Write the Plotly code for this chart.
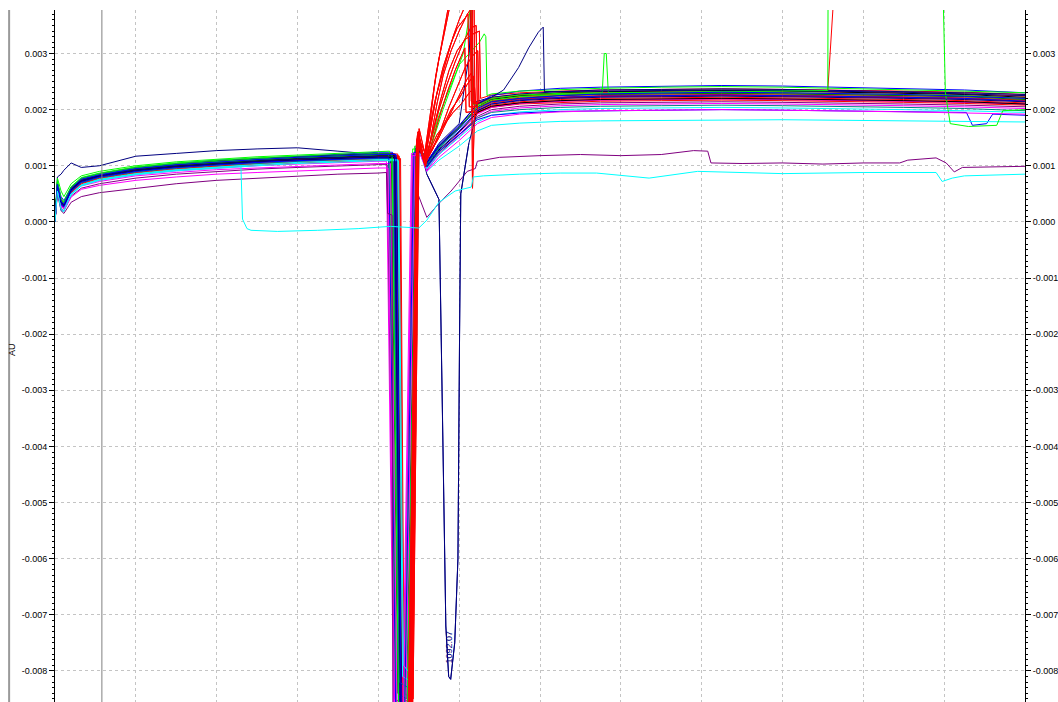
import plotly.graph_objects as go

# ---------------- data (signal in mAU, time in minutes) ----------------
X_PRE = [0.0, 0.06, 0.15, 0.22, 0.4, 0.65, 1.1, 2.0, 3.0, 4.0, 5.0, 6.0, 7.0, 8.0]
X_POST = [9.05, 9.2, 9.5, 10.0, 10.45, 10.8, 11.5, 12.5, 13.5, 15.0, 16.5, 18.0, 19.5, 21.0, 22.5, 24.0]

# red injections
RED_PRE = [
    [0.0, 0.66, 0.36, 0.30, 0.57, 0.72, 0.81, 0.92, 0.99, 1.04, 1.08, 1.12, 1.15, 1.17],
    [0.0, 0.64, 0.33, 0.28, 0.55, 0.70, 0.79, 0.90, 0.97, 1.02, 1.06, 1.10, 1.13, 1.15],
    [0.0, 0.68, 0.38, 0.33, 0.60, 0.75, 0.84, 0.95, 1.02, 1.07, 1.11, 1.14, 1.17, 1.19],
    [0.0, 0.62, 0.30, 0.26, 0.53, 0.69, 0.78, 0.88, 0.95, 1.00, 1.04, 1.08, 1.11, 1.13],
    [0.0, 0.70, 0.40, 0.35, 0.62, 0.77, 0.86, 0.97, 1.04, 1.09, 1.13, 1.16, 1.19, 1.21],
    [0.0, 0.60, 0.28, 0.24, 0.50, 0.66, 0.75, 0.85, 0.92, 0.97, 1.01, 1.05, 1.08, 1.10],
    [0.0, 0.65, 0.35, 0.30, 0.57, 0.73, 0.82, 0.93, 1.00, 1.05, 1.09, 1.13, 1.16, 1.18],
    [0.0, 0.63, 0.32, 0.27, 0.54, 0.71, 0.80, 0.91, 0.98, 1.03, 1.07, 1.11, 1.14, 1.16],
    [0.0, 0.67, 0.37, 0.31, 0.58, 0.74, 0.83, 0.94, 1.01, 1.06, 1.10, 1.13, 1.16, 1.18],
    [0.0, 0.61, 0.29, 0.25, 0.52, 0.68, 0.77, 0.87, 0.94, 0.99, 1.03, 1.07, 1.10, 1.12],
    [0.0, 0.69, 0.39, 0.34, 0.61, 0.76, 0.85, 0.96, 1.03, 1.08, 1.12, 1.15, 1.18, 1.22],
    [0.0, 0.64, 0.34, 0.29, 0.56, 0.72, 0.81, 0.92, 0.99, 1.04, 1.08, 1.12, 1.15, 1.17],
]
RED_DIP = [  # drop start, bottom start, bottom end, recovery x, bottom values, recovery value
    (8.52, 8.62, 8.84, 8.98, -8.5, -8.6, 1.30),
    (8.46, 8.58, 8.80, 8.96, -8.7, -8.8, 1.35),
    (8.40, 8.54, 8.76, 8.94, -8.6, -8.7, 1.28),
    (8.55, 8.64, 8.86, 9.00, -8.4, -8.5, 1.40),
    (8.48, 8.60, 8.82, 8.97, -8.8, -8.9, 1.32),
    (8.36, 8.50, 8.74, 8.93, -8.5, -8.6, 1.25),
    (8.50, 8.62, 8.83, 8.99, -8.7, -8.8, 1.38),
    (8.44, 8.56, 8.78, 8.95, -8.6, -8.7, 1.30),
    (8.42, 8.55, 8.79, 8.96, -8.6, -8.7, 1.33),
    (8.53, 8.63, 8.85, 8.99, -8.5, -8.6, 1.30),
    (8.38, 8.52, 8.75, 8.94, -8.7, -8.8, 1.36),
    (8.47, 8.59, 8.81, 8.97, -8.6, -8.7, 1.31),
]
RED_POST = [
    [1.28, 1.05, 1.30, 1.65, 2.10, 2.20, 2.25, 2.28, 2.30, 2.31, 2.32, 2.31, 2.30, 2.28, 2.26, 2.22],
    [1.30, 1.08, 1.32, 1.66, 2.05, 2.16, 2.22, 2.25, 2.27, 2.28, 2.29, 2.28, 2.27, 2.25, 2.23, 2.20],
    [1.27, 1.02, 1.28, 1.60, 1.98, 2.08, 2.14, 2.18, 2.20, 2.21, 2.22, 2.21, 2.20, 2.18, 2.16, 2.12],
    [1.32, 1.10, 1.35, 1.70, 2.20, 2.26, 2.30, 2.33, 2.35, 2.36, 2.37, 2.36, 2.35, 2.33, 2.31, 2.27],
    [1.29, 1.04, 1.29, 1.62, 1.95, 2.05, 2.11, 2.15, 2.17, 2.18, 2.19, 2.18, 2.17, 2.15, 2.13, 2.10],
    [1.25, 1.00, 1.26, 1.58, 1.96, 2.06, 2.12, 2.16, 2.18, 2.19, 2.20, 2.19, 2.18, 2.16, 2.14, 2.10],
    [1.31, 1.07, 1.33, 1.68, 2.10, 2.19, 2.24, 2.27, 2.29, 2.30, 2.31, 2.30, 2.29, 2.27, 2.25, 2.21],
    [1.29, 1.03, 1.30, 1.63, 2.05, 2.14, 2.19, 2.22, 2.24, 2.25, 2.26, 2.25, 2.24, 2.22, 2.20, 2.16],
    [1.30, 1.06, 1.31, 1.64, 2.02, 2.12, 2.18, 2.21, 2.23, 2.24, 2.25, 2.24, 2.23, 2.21, 2.19, 2.15],
    [1.27, 1.01, 1.27, 1.59, 1.94, 2.04, 2.10, 2.13, 2.15, 2.16, 2.17, 2.16, 2.15, 2.13, 2.11, 2.08],
    [1.32, 1.09, 1.34, 1.69, 2.12, 2.22, 2.27, 2.30, 2.32, 2.33, 2.34, 2.33, 2.32, 2.30, 2.28, 2.24],
    [1.29, 1.04, 1.30, 1.62, 2.06, 2.15, 2.20, 2.23, 2.25, 2.26, 2.27, 2.26, 2.25, 2.23, 2.21, 2.17],
]
RED_EVENTS = [
    [[(8.99, 1.62), (9.12, 1.08), (9.25, 1.75), (9.38, 2.40), (9.50, 2.90), (9.62, 3.35), (9.75, 3.80),
      (9.90, 4.30), (10.32, 5.00), (10.34, 2.12)],
     [(19.12, 2.34), (19.53, 7.0), (24.0, 7.0)]],
    [[(8.98, 1.55), (9.14, 1.05), (9.30, 1.70), (9.45, 2.30), (9.60, 2.75), (9.78, 3.15), (9.95, 3.45),
      (10.10, 3.60), (10.22, 3.70), (10.25, 2.05)]],
    [[(8.96, 1.48), (9.16, 1.00), (9.30, 1.35), (9.50, 1.85), (9.70, 2.30), (9.90, 2.70), (10.05, 2.95),
      (10.14, 3.10), (10.17, 1.95)]],
    [[(9.01, 1.66), (9.18, 1.12), (9.35, 1.60), (9.55, 2.20), (9.75, 2.70), (9.95, 3.05), (10.15, 3.25),
      (10.35, 3.35), (10.50, 3.40), (10.53, 2.20)]],
    [[(8.99, 1.50), (9.15, 1.02), (9.30, 1.25), (9.50, 1.50), (9.70, 1.80), (9.90, 2.10), (10.05, 2.35),
      (10.20, 2.55), (10.30, 2.65), (10.33, 1.90)]],
    [[(8.95, 1.45), (9.17, 0.98), (9.30, 1.50), (9.45, 2.10), (9.60, 2.60), (9.80, 3.05), (10.00, 3.40),
      (10.20, 3.70), (10.30, 3.80), (10.33, 0.60), (10.38, 1.95)]],
    [[(9.00, 1.58), (9.13, 1.06), (9.28, 1.30), (9.45, 1.55), (9.65, 1.75), (9.85, 1.95), (10.05, 2.10),
      (10.25, 2.30), (10.38, 2.40), (10.41, 2.10)]],
    [[(8.97, 1.52), (9.15, 1.04), (9.30, 1.90), (9.42, 2.60), (9.55, 3.10), (9.68, 3.60), (9.80, 4.10),
      (10.36, 4.60), (10.39, 2.05)]],
    [[(8.98, 1.60), (9.14, 1.10), (9.30, 1.45), (9.50, 2.00), (9.70, 2.45), (9.90, 2.85), (10.10, 3.20),
      (10.28, 3.45), (10.42, 3.50), (10.45, 2.00)]],
    [[(9.00, 1.50), (9.20, 1.15), (9.40, 1.40), (9.60, 1.70), (9.80, 2.00), (10.00, 2.20), (10.20, 2.45),
      (10.35, 2.60), (10.38, 1.85)]],
    [[(8.97, 1.56), (9.12, 1.10), (9.25, 1.60), (9.40, 2.15), (9.55, 2.55), (9.70, 2.95), (9.85, 3.30),
      (10.00, 3.60), (10.15, 3.85), (10.27, 4.00), (10.30, 2.15)]],
    [[(8.99, 1.50), (9.16, 1.05), (9.35, 1.30), (9.55, 1.65), (9.75, 2.05), (9.95, 2.40), (10.15, 2.75),
      (10.32, 2.95), (10.46, 3.05), (10.49, 2.10)]],
]

# other injections
TRACE_COLORS = ["#000080", "#0000FF", "#00FF00", "#000000", "#00FF00", "#0000FF", "#008000",
                "#FF00FF", "#000000", "#800080", "#000080", "#FF00FF", "#008080", "#00FFFF",
                "#0000FF", "#00FFFF", "#00FF00", "#000080", "#FF00FF", "#0000FF"]
TRACE_PRE = [
    [0.0, 0.80, 0.85, 0.92, 1.05, 0.97, 1.00, 1.17, 1.22, 1.27, 1.30, 1.32, 1.26, 1.20],
    [0.0, 0.70, 0.45, 0.38, 0.62, 0.78, 0.86, 0.97, 1.04, 1.10, 1.13, 1.17, 1.20, 1.24],
    [0.05, 0.78, 0.55, 0.45, 0.68, 0.82, 0.90, 1.00, 1.07, 1.12, 1.16, 1.19, 1.22, 1.26],
    [0.0, 0.65, 0.35, 0.30, 0.58, 0.74, 0.82, 0.93, 1.00, 1.05, 1.09, 1.13, 1.16, 1.18],
    [0.0, 0.72, 0.42, 0.36, 0.63, 0.79, 0.87, 0.98, 1.05, 1.10, 1.14, 1.17, 1.20, 1.22],
    [0.0, 0.60, 0.30, 0.26, 0.54, 0.70, 0.80, 0.90, 0.97, 1.02, 1.06, 1.10, 1.13, 1.15],
    [0.0, 0.68, 0.38, 0.33, 0.60, 0.75, 0.83, 0.94, 1.01, 1.06, 1.10, 1.14, 1.17, 1.19],
    [0.0, 0.58, 0.28, 0.24, 0.50, 0.66, 0.74, 0.84, 0.91, 0.96, 1.00, 1.03, 1.06, 1.08],
    [0.0, 0.62, 0.32, 0.28, 0.56, 0.72, 0.80, 0.91, 0.98, 1.03, 1.07, 1.10, 1.13, 1.15],
    [0.0, 0.55, 0.25, 0.20, 0.46, 0.60, 0.68, 0.78, 0.85, 0.90, 0.94, 0.97, 1.00, 1.02],
    [0.0, 0.66, 0.36, 0.30, 0.58, 0.74, 0.83, 0.95, 1.02, 1.08, 1.12, 1.16, 1.19, 1.21],
    [0.0, 0.60, 0.28, 0.24, 0.50, 0.64, 0.72, 0.82, 0.88, 0.93, 0.96, 0.99, 1.02, 1.04],
    [0.0, 0.64, 0.33, 0.28, 0.55, 0.70, 0.79, 0.89, 0.96, 1.01, 1.04, 1.08, 1.11, 1.13],
    [0.0, 0.60, 0.22, 0.20, 0.50, 0.66, 0.76, 0.86, 0.93, 0.98, 1.02, 1.06, 1.09, 1.11],
    [0.0, 0.63, 0.31, 0.27, 0.55, 0.71, 0.80, 0.90, 0.97, 1.02, 1.06, 1.09, 1.12, 1.14],
    [0.0, 0.58, 0.20, 0.18, 0.48, 0.64, 0.74, 0.84, 0.91, 0.96, 1.00, 1.04, 1.07, 1.09],
    [0.0, 0.70, 0.40, 0.34, 0.62, 0.77, 0.85, 0.96, 1.03, 1.08, 1.12, 1.15, 1.18, 1.20],
    [0.0, 0.64, 0.34, 0.29, 0.57, 0.73, 0.82, 0.92, 0.99, 1.04, 1.08, 1.12, 1.15, 1.17],
    [0.0, 0.55, 0.22, 0.20, 0.44, 0.58, 0.65, 0.74, 0.80, 0.85, 0.88, 0.91, 0.94, 0.96],
    [0.0, 0.67, 0.37, 0.32, 0.60, 0.76, 0.84, 0.95, 1.02, 1.07, 1.11, 1.15, 1.18, 1.20],
]
TRACE_DIP = [
    (8.30, 8.45, 8.72, 8.97, -8.7, -8.8, 1.30), (8.35, 8.50, 8.74, 8.92, -8.8, -8.9, 1.32),
    (8.28, 8.44, 8.66, 8.90, -8.6, -8.7, 1.35), (8.40, 8.54, 8.78, 8.95, -8.7, -8.6, 1.28),
    (8.25, 8.42, 8.64, 8.85, -8.5, -8.6, 1.30), (8.38, 8.52, 8.80, 9.00, -8.8, -8.9, 1.25),
    (8.32, 8.48, 8.70, 8.93, -8.4, -8.5, 1.30), (8.20, 8.38, 8.60, 8.82, -8.7, -8.8, 1.22),
    (8.45, 8.58, 8.82, 8.98, -8.6, -8.7, 1.25), (8.22, 8.40, 8.62, 8.86, -8.5, -8.6, 1.20),
    (8.42, 8.56, 8.78, 8.97, -8.8, -8.9, 1.30), (8.30, 8.46, 8.68, 8.90, -8.6, -8.7, 1.20),
    (8.36, 8.52, 8.74, 8.94, -8.2, -8.3, 1.24), (8.48, 8.60, 8.84, 9.00, -8.1, -8.2, 1.20),
    (8.26, 8.43, 8.65, 8.88, -8.7, -8.8, 1.24), (8.50, 8.62, 8.85, 9.00, -7.9, -8.1, 1.18),
    (8.34, 8.50, 8.72, 8.95, -8.6, -8.7, 1.30), (8.40, 8.55, 8.80, 8.99, -8.7, -8.8, 1.26),
    (8.24, 8.40, 8.62, 8.84, -8.6, -8.7, 1.18), (8.44, 8.57, 8.81, 8.96, -8.7, -8.8, 1.28),
]
TRACE_POST = [
    [1.30, 1.05, 1.40, 1.75, 2.15, 2.22, 2.28, 2.32, 2.35, 2.36, 2.37, 2.36, 2.34, 2.33, 2.30, 2.27],
    [1.30, 1.08, 1.38, 1.72, 2.10, 2.25, 2.33, 2.38, 2.40, 2.42, 2.43, 2.42, 2.40, 2.38, 2.35, 2.30],
    [1.33, 1.10, 1.42, 1.80, 2.20, 2.28, 2.33, 2.36, 2.38, 2.40, 2.41, 2.40, 2.38, 2.36, 2.33, 2.30],
    [1.27, 1.02, 1.33, 1.68, 2.05, 2.18, 2.25, 2.30, 2.32, 2.33, 2.34, 2.33, 2.31, 2.30, 2.27, 2.22],
    [1.28, 1.00, 1.35, 1.70, 2.08, 2.20, 2.26, 2.29, 2.30, 2.31, 2.32, 2.30, 2.29, 2.27, 2.25, 2.20],
    [1.25, 1.00, 1.30, 1.62, 1.98, 2.10, 2.17, 2.22, 2.24, 2.25, 2.26, 2.25, 2.24, 2.22, 2.20, 2.15],
    [1.30, 1.04, 1.35, 1.68, 2.02, 2.14, 2.20, 2.25, 2.27, 2.28, 2.29, 2.28, 2.27, 2.25, 2.23, 2.18],
    [1.22, 0.95, 1.25, 1.58, 1.92, 2.04, 2.11, 2.15, 2.17, 2.18, 2.19, 2.18, 2.17, 2.15, 2.13, 2.10],
    [1.25, 0.98, 1.28, 1.60, 1.95, 2.06, 2.12, 2.16, 2.18, 2.19, 2.20, 2.19, 2.18, 2.16, 2.14, 2.10],
    [1.20, 0.92, 1.22, 1.55, 1.88, 2.00, 2.06, 2.10, 2.12, 2.13, 2.14, 2.13, 2.12, 2.10, 2.08, 2.05],
    [1.30, 1.05, 1.36, 1.70, 2.10, 2.22, 2.28, 2.32, 2.33, 2.34, 2.35, 2.34, 2.33, 2.31, 2.28, 2.25],
    [1.20, 0.93, 1.20, 1.52, 1.85, 1.97, 2.03, 2.07, 2.09, 2.10, 2.11, 2.10, 2.09, 2.07, 2.05, 2.02],
    [1.24, 0.97, 1.25, 1.55, 1.85, 1.95, 2.00, 2.04, 2.06, 2.07, 2.08, 2.07, 2.06, 2.04, 2.02, 1.98],
    [1.20, 0.95, 1.20, 1.50, 1.78, 1.90, 1.96, 2.00, 2.02, 2.03, 2.04, 2.03, 2.02, 2.00, 1.98, 1.95],
    [1.24, 0.98, 1.26, 1.55, 1.82, 1.90, 1.94, 1.97, 1.98, 1.99, 2.00, 1.99, 1.98, 1.97, 1.96, 1.90],
    [1.18, 0.90, 1.10, 1.35, 1.62, 1.72, 1.76, 1.79, 1.80, 1.81, 1.82, 1.82, 1.81, 1.80, 1.79, 1.78],
    [1.30, 1.02, 1.32, 1.66, 2.05, 2.17, 2.23, 2.27, 2.29, 2.30, 2.31, 2.32, 2.30, 2.28, 2.20, 2.00],
    [1.26, 1.00, 1.30, 1.62, 1.98, 2.10, 2.16, 2.20, 2.22, 2.23, 2.24, 2.23, 2.22, 2.20, 2.18, 2.14],
    [1.18, 0.90, 1.15, 1.45, 1.75, 1.86, 1.92, 1.96, 1.98, 1.99, 2.00, 1.99, 1.98, 1.96, 1.94, 1.92],
    [1.28, 1.03, 1.34, 1.66, 2.02, 2.14, 2.20, 2.25, 2.28, 2.30, 2.31, 2.30, 2.29, 2.27, 2.24, 2.20],
]
TRACE_EVENTS = {
    0: [[(10.25, 3.0), (10.32, 4.5), (10.34, 2.10)]],
    2: [[(9.15, 1.10), (9.50, 1.90), (10.00, 2.80), (10.50, 3.20), (10.62, 3.35), (10.66, 3.30),
         (10.69, 2.25)]],
    4: [[(9.15, 1.00), (9.60, 2.00), (10.10, 3.00), (10.30, 3.90), (10.33, 2.10)],
        [(13.54, 2.30), (13.59, 3.00), (13.64, 3.00), (13.69, 2.30)]],
    10: [[(11.10, 2.35), (11.47, 2.75), (11.72, 3.10), (11.96, 3.38), (12.08, 3.47), (12.11, 2.32)]],
    14: [[(22.55, 1.95), (22.70, 1.72), (23.05, 1.75), (23.20, 1.92)]],
    16: [[(19.12, 2.34), (19.14, 7.0), (21.88, 7.0), (22.03, 2.30), (22.15, 1.75), (22.60, 1.70),
          (23.30, 1.72), (23.45, 1.98)]],
    17: [[(9.20, 0.85), (9.50, 0.40), (9.60, -4.0), (9.67, -7.2), (9.74, -8.1), (9.79, -8.15),
          (9.89, -7.5), (9.97, -6.0), (10.01, -2.0), (10.04, 0.5), (10.24, 1.4)]],
}

# low purple injection
PURPLE_X = X_PRE + [8.20, 8.23, 8.34, 8.36, 8.78, 8.95, 9.20, 9.50, 9.80, 10.20, 10.40, 10.45, 11.0,
                    12.0, 13.0, 14.0, 15.0, 15.8, 16.15, 16.23, 17.0, 18.0, 19.0, 20.0, 20.9, 21.1,
                    21.8, 22.05, 22.25, 22.45, 23.0, 24.0]
PURPLE_Y = [0.0, 0.50, 0.20, 0.15, 0.35, 0.45, 0.52, 0.60, 0.68, 0.74, 0.78, 0.82, 0.85, 0.87,
            0.88, 0.15, 0.12, -8.6, -8.7, 0.55, 0.08, 0.33, 0.55, 0.90, 0.95, 1.08, 1.15, 1.18,
            1.20, 1.18, 1.20, 1.27, 1.26, 1.05, 1.04, 1.05, 1.03, 1.05, 1.05, 1.10, 1.14,
            1.05, 0.89, 0.97, 0.98, 0.99]

# low cyan injection
CYAN_X = [0.0, 0.06, 0.15, 0.22, 0.4, 0.65, 1.1, 2.0, 3.0, 4.0, 4.6, 4.64, 4.75, 4.85, 5.5, 6.5,
          7.5, 8.3, 8.9, 9.0, 9.2, 9.5, 9.9, 10.3, 10.35, 10.6, 11.5, 12.5, 13.4, 14.7, 15.9,
          18.0, 20.0, 21.8, 21.95, 22.2, 22.5, 24.0]
CYAN_Y = [0.0, 0.55, 0.22, 0.20, 0.50, 0.65, 0.75, 0.85, 0.92, 0.97, 1.00, 0.05, -0.12, -0.15,
          -0.17, -0.15, -0.12, -0.08, -0.10, -0.11, 0.03, 0.35, 0.55, 0.62, 0.80, 0.82, 0.85,
          0.87, 0.87, 0.78, 0.90, 0.86, 0.88, 0.88, 0.72, 0.78, 0.82, 0.85]

Y_TICKS = [0.003, 0.002, 0.001, 0.0, -0.001, -0.002, -0.003, -0.004, -0.005, -0.006, -0.007, -0.008]
Y_LABELS = ["0.003", "0.002", "0.001", "0.000", "-0.001", "-0.002", "-0.003", "-0.004",
            "-0.005", "-0.006", "-0.007", "-0.008"]
Y_RANGE = [-0.008554, 0.003775]
X_RANGE = [0.0, 24.0]
RED_TOP_WINDOW = (8.7, 10.6)
MARKER_X = 1.16
PEAK_LABEL = "1092.07"
PEAK_LABEL_POS = (9.74, -0.00757)


def build(pre, dip, post, events):
    xa, xb1, xb2, xc, ym1, ym2, rec = dip
    pts = list(zip(X_PRE + [xa, xb1, xb2, xc] + X_POST, pre + [pre[-1], ym1, ym2, rec] + post))
    for seg in events:
        lo = min(p[0] for p in seg)
        hi = max(p[0] for p in seg)
        pts = [p for p in pts if not (lo <= p[0] <= hi)] + list(seg)
    pts.sort(key=lambda p: p[0])
    return [p[0] for p in pts], [p[1] / 1000.0 for p in pts]


def line(x, y, color, **kw):
    return go.Scatter(x=x, y=y, mode="lines", line=dict(color=color, width=1), hoverinfo="skip", **kw)


fig = go.Figure()

red_curves = [build(RED_PRE[i], RED_DIP[i], RED_POST[i], RED_EVENTS[i]) for i in range(len(RED_PRE))]
for x, y in red_curves:
    fig.add_trace(line(x, y, "#FF0000"))

for i in range(len(TRACE_PRE)):
    x, y = build(TRACE_PRE[i], TRACE_DIP[i], TRACE_POST[i], TRACE_EVENTS.get(i, []))
    fig.add_trace(line(x, y, TRACE_COLORS[i]))

fig.add_trace(line(PURPLE_X, [v / 1000.0 for v in PURPLE_Y], "#800080"))
fig.add_trace(line(CYAN_X, [v / 1000.0 for v in CYAN_Y], "#00FFFF", yaxis="y2"))

# red injections are drawn in front of the others around the solvent-front event
lo, hi = RED_TOP_WINDOW
for x, y in red_curves:
    keep = [(a, b) for a, b in zip(x, y) if lo <= a <= hi]
    fig.add_trace(line([p[0] for p in keep], [p[1] for p in keep], "#FF0000"))

# the navy injection with the late dip stays on top
x17, y17 = build(TRACE_PRE[17], TRACE_DIP[17], TRACE_POST[17], TRACE_EVENTS[17])
keep = [(a, b) for a, b in zip(x17, y17) if 9.2 <= a <= 10.3]
fig.add_trace(line([p[0] for p in keep], [p[1] for p in keep], TRACE_COLORS[17]))

tickfont = dict(family="Liberation Sans, Arial, sans-serif", size=9, color="#000000")
grid = dict(showgrid=True, gridcolor="#c4c4c4", griddash="3px,3px", gridwidth=1)
minor = dict(dtick=0.0001, tick0=0, ticks="outside", ticklen=2, tickcolor="#000000", showgrid=False)

fig.update_layout(
    width=1058, height=702,
    margin=dict(l=55, r=30, t=10, b=0),
    paper_bgcolor="white", plot_bgcolor="white",
    showlegend=False,
    xaxis=dict(range=X_RANGE, dtick=2, tick0=0, showticklabels=False, ticks="",
               zeroline=False, showline=False, **grid),
    yaxis=dict(range=Y_RANGE, tickvals=Y_TICKS, ticktext=Y_LABELS, ticks="outside",
               ticklen=5, tickcolor="#000000", tickwidth=1, showline=True, linecolor="#000000",
               linewidth=1, zeroline=False, tickfont=tickfont, minor=minor, **grid),
    yaxis2=dict(range=Y_RANGE, matches="y", overlaying="y", side="right", anchor="x",
                tickvals=Y_TICKS, ticktext=Y_LABELS, ticks="outside", ticklen=5,
                tickcolor="#000000", showline=True, linecolor="#000000", linewidth=1,
                zeroline=False, showgrid=False, tickfont=tickfont, minor=minor),
    shapes=[
        dict(type="line", xref="x", yref="paper", x0=MARKER_X, x1=MARKER_X, y0=0, y1=1,
             line=dict(color="#808080", width=1)),
        dict(type="line", xref="paper", yref="paper", x0=-0.0473, x1=-0.0473, y0=0, y1=1,
             line=dict(color="#9a9a9a", width=2)),
    ],
    annotations=[
        dict(text="AU", xref="paper", yref="paper", x=-0.0442, y=0.509, xanchor="center",
             yanchor="middle", showarrow=False, textangle=-90, font=tickfont),
        dict(text=PEAK_LABEL, xref="x", yref="y", x=PEAK_LABEL_POS[0], y=PEAK_LABEL_POS[1],
             xanchor="center", yanchor="middle", showarrow=False, textangle=-90,
             font=dict(family="Liberation Sans, Arial", size=9, color="#000080")),
    ],
)

fig.write_html("out.html")
